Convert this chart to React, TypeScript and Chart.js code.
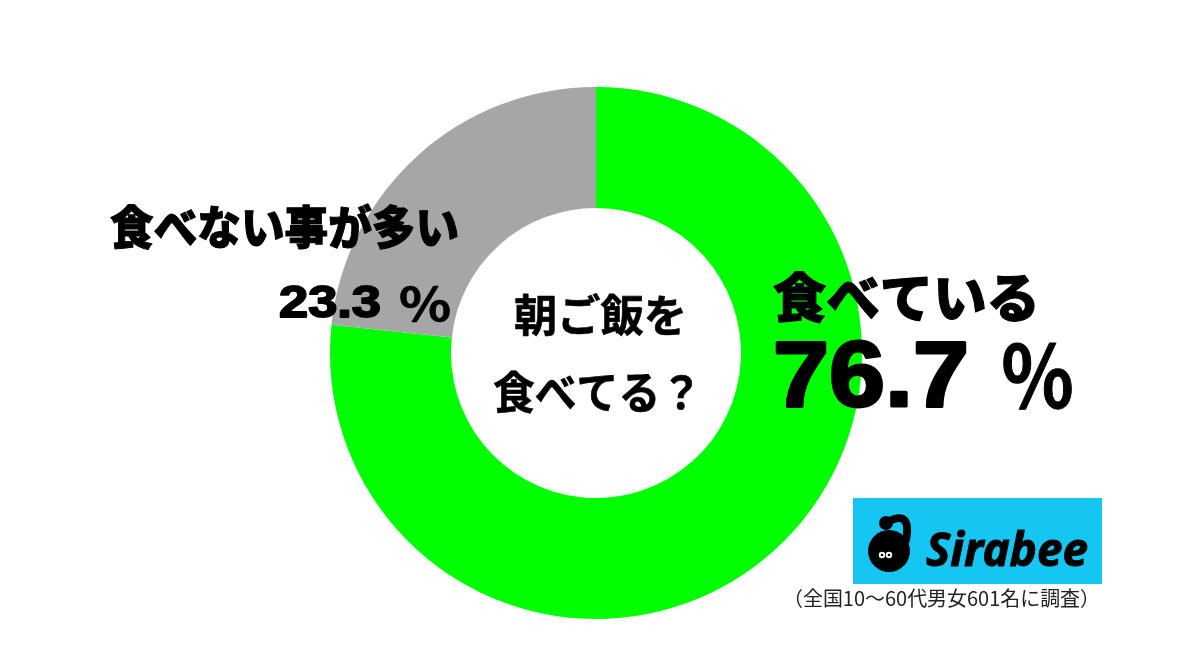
import React, { useEffect, useRef } from 'react';
import { Chart, registerables } from 'chart.js';

Chart.register(...registerables);

const categories = ['食べている', '食べない事が多い'];
const values = [76.7, 23.3];
const colors = ['#00ff00', '#a6a6a6'];
const centerTitle = ['朝ご飯を', '食べてる？'];
const footnote = '（全国10〜60代男女601名に調査）';
const brand = 'Sirabee';

const JP = "'Noto Sans CJK JP', 'Noto Sans', sans-serif";
const NUM = "'Liberation Sans', Arial, sans-serif";

function fitText(
  ctx: CanvasRenderingContext2D,
  text: string,
  left: number,
  y: number,
  width: number,
  font: string,
  baseline: CanvasTextBaseline,
  heavy = 0
) {
  ctx.save();
  ctx.font = font;
  ctx.textAlign = 'left';
  ctx.textBaseline = baseline;
  const w = ctx.measureText(text).width || 1;
  ctx.translate(left, y);
  ctx.scale(width / w, 1);
  ctx.fillText(text, 0, 0);
  if (heavy > 0) {
    ctx.lineWidth = heavy;
    ctx.lineJoin = 'round';
    ctx.strokeStyle = ctx.fillStyle as string;
    ctx.strokeText(text, 0, 0);
  }
  ctx.restore();
}

const overlayPlugin = {
  id: 'overlay',
  afterDraw(chart: any) {
    const ctx: CanvasRenderingContext2D = chart.ctx;
    ctx.save();
    ctx.fillStyle = '#000';

    // center title
    fitText(ctx, centerTitle[0], 514, 315, 173, `bold 44px ${JP}`, 'middle', 0.6);
    fitText(ctx, centerTitle[1], 493, 392, 209, `bold 44px ${JP}`, 'middle', 0.6);

    // right label (series 0)
    fitText(ctx, categories[0], 773, 298, 267, `900 53px ${JP}`, 'middle', 1.1);
    fitText(ctx, values[0].toFixed(1), 773, 406, 196, `bold 93px ${NUM}`, 'alphabetic', 3);
    fitText(ctx, '％', 1000, 409, 75, `bold 86px ${JP}`, 'alphabetic', 1);

    // left label (series 1)
    fitText(ctx, categories[1], 110, 227, 349, `900 46px ${JP}`, 'middle', 1);
    fitText(ctx, values[1].toFixed(1), 279, 317, 102, `bold 44px ${NUM}`, 'alphabetic', 1.8);
    fitText(ctx, '％', 398, 321, 54, `bold 46px ${JP}`, 'alphabetic', 0.6);

    // brand box
    ctx.fillStyle = '#15c6f2';
    ctx.fillRect(853, 498, 249, 86);
    ctx.fillStyle = '#000';
    // mascot: body
    ctx.beginPath();
    ctx.arc(889, 551, 21, 0, Math.PI * 2);
    ctx.fill();
    // neck
    ctx.lineWidth = 8;
    ctx.lineCap = 'round';
    ctx.strokeStyle = '#000';
    ctx.beginPath();
    ctx.moveTo(886, 523);
    ctx.quadraticCurveTo(912, 508, 906, 540);
    ctx.stroke();
    ctx.beginPath();
    ctx.arc(886, 523, 7, 0, Math.PI * 2);
    ctx.fill();
    // eyes
    ctx.fillStyle = '#fff';
    ctx.beginPath();
    ctx.arc(882, 555, 3.2, 0, Math.PI * 2);
    ctx.arc(889, 555, 3.2, 0, Math.PI * 2);
    ctx.fill();
    ctx.fillStyle = '#000';
    ctx.beginPath();
    ctx.arc(882, 555, 1.3, 0, Math.PI * 2);
    ctx.arc(889, 555, 1.3, 0, Math.PI * 2);
    ctx.fill();
    fitText(ctx, brand, 926, 566, 162, `bold italic 46px 'Noto Sans', ${NUM}`, 'alphabetic', 1);

    // footnote
    ctx.fillStyle = '#222';
    fitText(ctx, footnote, 783, 598, 317, `20px ${JP}`, 'middle');
    ctx.restore();
  },
};

export default function App() {
  const ref = useRef<HTMLCanvasElement | null>(null);

  useEffect(() => {
    if (!ref.current) return;
    const chart = new Chart(ref.current, {
      type: 'doughnut',
      data: {
        labels: categories,
        datasets: [
          {
            data: values,
            backgroundColor: colors,
            borderWidth: 0,
            hoverOffset: 0,
            offset: 0,
          },
        ],
      },
      options: {
        responsive: false,
        maintainAspectRatio: false,
        animation: false,
        devicePixelRatio: 1,
        cutout: 145,
        radius: 266,
        layout: { padding: { left: 330, right: 338, top: 87, bottom: 49 } },
        plugins: {
          legend: { display: false },
          tooltip: { enabled: false },
        },
        events: [],
      },
      plugins: [overlayPlugin],
    });
    return () => chart.destroy();
  }, []);

  return (
    <div style={{ position: 'absolute', left: 0, top: 0, width: 1200, height: 668, background: '#fff' }}>
      <canvas ref={ref} width={1200} height={668} style={{ display: 'block' }} />
    </div>
  );
}
